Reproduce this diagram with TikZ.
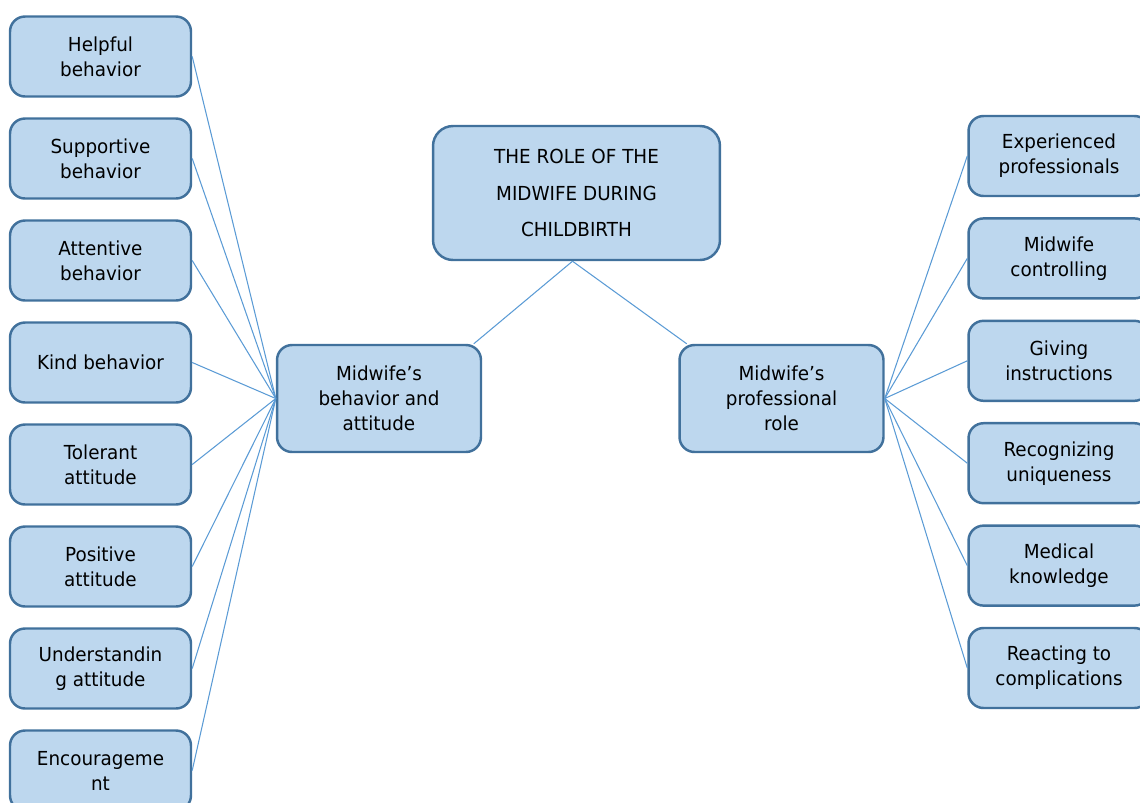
\documentclass[tikz,border=0pt]{standalone}
\usepackage{fontspec}
\setmainfont[FakeStretch=0.95]{DejaVu Sans}
\usetikzlibrary{calc}
\definecolor{boxfill}{RGB}{189,215,238}
\definecolor{boxline}{RGB}{65,113,156}
\definecolor{linkline}{RGB}{91,155,213}
\tikzset{
  item/.style={draw=boxline,line width=1.4pt,fill=boxfill,rounded corners=0.3cm,
    minimum width=3.62cm,minimum height=1.6cm,align=center,inner sep=0pt,
    font=\fontsize{11}{14.2}\selectfont},
  link/.style={draw=linkline,line width=0.6pt}
}
\begin{document}
\begin{tikzpicture}[x=0.02cm,y=-0.02cm]
\useasboundingbox (0,0) rectangle (1140,802);
% top and middle boxes
\node[item,minimum width=5.74cm,minimum height=2.68cm,rounded corners=0.4cm,
  font=\fontsize{11}{21}\selectfont] (title) at (576.5,193)
  {THE ROLE OF THE\\MIDWIFE DURING\\CHILDBIRTH};
\node[item,minimum width=4.08cm,minimum height=2.14cm] (mleft) at (379,398.5)
  {Midwife’s\\behavior and\\attitude};
\node[item,minimum width=4.08cm,minimum height=2.14cm] (mright) at (781.5,398.5)
  {Midwife’s\\professional\\role};
\draw[link] ([xshift=-0.08cm]title.south) -- (mleft.30);
\draw[link] ([xshift=-0.08cm]title.south) -- (mright.150);
% left column
\foreach \txt [count=\i from 0] in {Helpful\\behavior,Supportive\\behavior,
  Attentive\\behavior,Kind behavior,Tolerant\\attitude,Positive\\attitude,
  Understandin\\g attitude,Encourageme\\nt}{
  \node[item] (l\i) at (100.5,56.5+102*\i) {\txt};
  \draw[link] (l\i.east) -- (mleft.west);
}
% right column
\foreach \txt [count=\i from 0] in {Experienced\\professionals,Midwife\\controlling,
  Giving\\instructions,Recognizing\\uniqueness,Medical\\knowledge,
  Reacting to\\complications}{
  \node[item] (r\i) at (1059,156+102.4*\i) {\txt};
  \draw[link] (mright.east) -- (r\i.west);
}
\end{tikzpicture}
\end{document}
